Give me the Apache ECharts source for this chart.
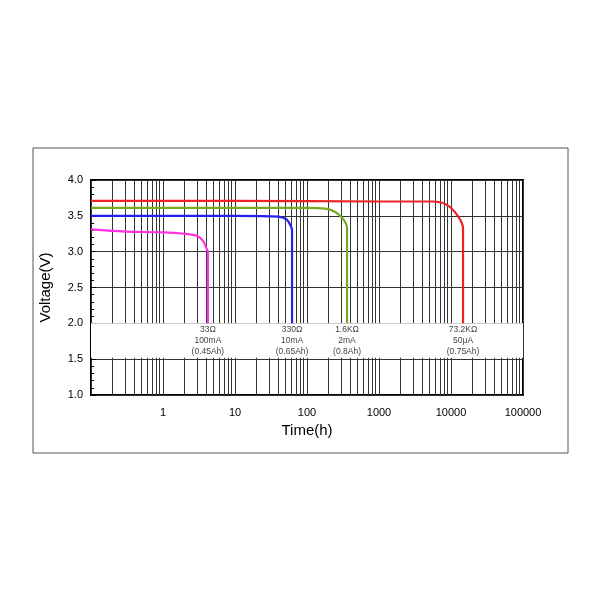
<html>
<head>
<script src="https://cdn.jsdelivr.net/npm/echarts@6/dist/echarts.min.js"></script>
</head>
<body style="margin:0">
<div id="main" style="width:600px;height:600px;"></div>
<script type="text/javascript">
// discharge curves, time in hours, voltage in V
var t33 = [0.1, 0.3, 1, 2, 3, 3.6, 4.0, 4.2, 4.2];
var v33 = [3.31, 3.28, 3.27, 3.25, 3.22, 3.15, 3.05, 3.0, 2.0];
var t330 = [0.1, 1, 10, 40, 52, 58, 62, 62];
var v330 = [3.5, 3.5, 3.5, 3.49, 3.45, 3.38, 3.3, 2.0];
var t1k6 = [0.1, 1, 10, 100, 180, 250, 320, 360, 360];
var v1k6 = [3.61, 3.61, 3.61, 3.61, 3.6, 3.55, 3.45, 3.33, 2.0];
var t73k = [0.1, 10, 1000, 5600, 8500, 12000, 14700, 14700];
var v73k = [3.71, 3.71, 3.7, 3.7, 3.66, 3.52, 3.33, 2.0];
var curveLabels = ['33Ω\n100mA\n(0.45Ah)', '330Ω\n10mA\n(0.65Ah)', '1.6KΩ\n2mA\n(0.8Ah)', '73.2KΩ\n50μA\n(0.75Ah)'];
var labelX = [4.2, 62, 360, 14700];
var colors = ['#ff33dd', '#2222ee', '#77aa22', '#ee2222'];

function pairs(t, v) { return t.map(function (x, i) { return [x, v[i]]; }); }
var sets = [pairs(t33, v33), pairs(t330, v330), pairs(t1k6, v1k6), pairs(t73k, v73k)];

var myChart = echarts.init(document.getElementById('main'));
var series = sets.map(function (d, i) {
    return {
        type: 'line', data: d, symbol: 'none', smooth: 0.3,
        lineStyle: { color: colors[i], width: 2.2 },
        z: 5,
        markPoint: {
            symbol: 'circle', symbolSize: 0,
            data: [{ coord: [labelX[i], 1.76] }],
            label: { show: true, formatter: curveLabels[i], color: '#444', fontSize: 8.5, lineHeight: 11, fontFamily: 'Arial' }
        }
    };
});
series[0].markArea = {
    silent: true,
    itemStyle: { color: '#fff' },
    data: [[{ xAxis: 0.1, yAxis: 1.52 }, { xAxis: 100000, yAxis: 2.0 }]]
};

var option = {
    backgroundColor: '#fff',
    animation: false,
    graphic: [{ type: 'rect', shape: { x: 33, y: 148, width: 535, height: 305 }, style: { fill: 'none', stroke: '#555', lineWidth: 1 } }],
    grid: { left: 91, right: 77, top: 180, bottom: 205, show: true, borderColor: '#000', borderWidth: 2 },
    xAxis: {
        type: 'log', logBase: 10, min: 0.1, max: 100000,
        name: 'Time(h)', nameLocation: 'middle', nameGap: 28,
        nameTextStyle: { fontSize: 15, color: '#000', fontFamily: 'Arial' },
        axisLine: { show: false }, axisTick: { show: false },
        axisLabel: { color: '#000', fontSize: 11, fontFamily: 'Arial', margin: 12,
            formatter: function (v) { return v < 1 ? '' : String(Math.round(v)); } },
        splitLine: { show: true, lineStyle: { color: '#333', width: 1 } },
        minorTick: { show: false, splitNumber: 9 },
        minorSplitLine: { show: true, lineStyle: { color: '#333', width: 1 } }
    },
    yAxis: {
        type: 'value', min: 1.0, max: 4.0, interval: 0.5,
        name: 'Voltage(V)', nameLocation: 'middle', nameGap: 38,
        nameTextStyle: { fontSize: 15, color: '#000', fontFamily: 'Arial' },
        axisLine: { show: false },
        axisTick: { show: true, inside: true, length: 5, lineStyle: { color: '#000' } },
        minorTick: { show: true, splitNumber: 5, length: 3, lineStyle: { color: '#000' } },
        axisLabel: { color: '#000', fontSize: 11, fontFamily: 'Arial', formatter: function (v) { return v.toFixed(1); } },
        splitLine: { show: true, lineStyle: { color: '#333', width: 1 } }
    },
    series: series
};
myChart.setOption(option);
</script>
</body>
</html>
